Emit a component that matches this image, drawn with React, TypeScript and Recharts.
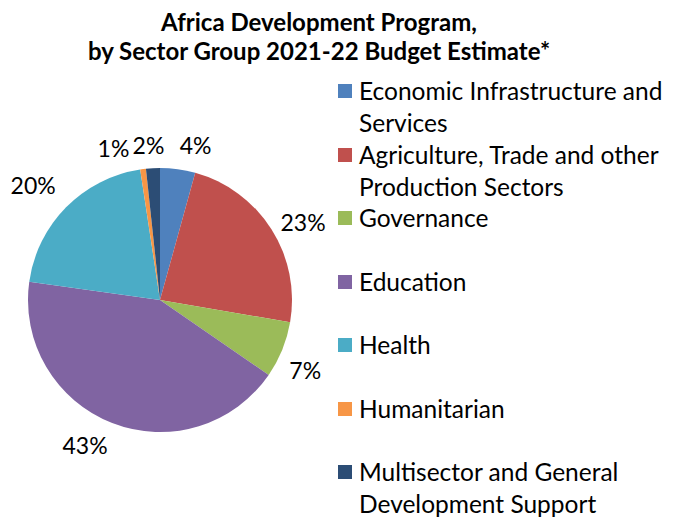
import React from "react";
import { PieChart, Pie, Cell, Legend } from "recharts";

const sectors = [
  "Economic Infrastructure and Services",
  "Agriculture, Trade and other Production Sectors",
  "Governance",
  "Education",
  "Health",
  "Humanitarian",
  "Multisector and General Development Support",
];
const shares = [4.3, 23.4, 6.9, 42.6, 20.4, 0.7, 1.7];
const colors = ["#4F81BD", "#C0504D", "#9BBB59", "#8064A2", "#4BACC6", "#F79646", "#2C4D75"];
// legend rows, split the way the original wraps them
const legendLines = [
  ["Economic Infrastructure and", "Services"],
  ["Agriculture, Trade and other", "Production Sectors"],
  ["Governance"],
  ["Education"],
  ["Health"],
  ["Humanitarian"],
  ["Multisector and General", "Development Support"],
];

// nudges for the data labels (Excel moves crowded ones apart)
const labelNudge = [
  [14, 4],
  [8, 8],
  [-3, 10],
  [-17, -4],
  [-13, -3],
  [-26, 7],
  [-3, 5],
];

const data = sectors.map((name, i) => ({ name, value: shares[i] }));

const FONT = "Lato, 'Open Sans', sans-serif";
const RAD = Math.PI / 180;

const renderLabel = (props: any) => {
  const { cx, cy, midAngle, outerRadius, percent, index } = props;
  const r = outerRadius + 28;
  const x = cx + r * Math.cos(-midAngle * RAD) + labelNudge[index][0];
  const y = cy + r * Math.sin(-midAngle * RAD) + labelNudge[index][1];
  return (
    <text
      x={x}
      y={y}
      textAnchor="middle"
      dominantBaseline="central"
      fill="#000"
      fontSize={23}
      fontFamily={FONT}
    >
      {Math.round(percent * 100) + "%"}
    </text>
  );
};

const renderLegend = () => (
  <div style={{ fontFamily: FONT, fontSize: 24.5, color: "#000" }}>
    {legendLines.map((lines, i) => (
      <div key={i} style={{ display: "flex", height: 63.5 }}>
        <div
          style={{
            width: 14,
            height: 14,
            background: colors[i],
            marginTop: 9,
            marginRight: 7,
            flexShrink: 0,
          }}
        />
        <div style={{ lineHeight: "32px", whiteSpace: "nowrap" }}>
          {lines.map((l, j) => (
            <div key={j}>{l}</div>
          ))}
        </div>
      </div>
    ))}
  </div>
);

export default function App() {
  return (
    <div style={{ position: "absolute", left: 0, top: 0, width: 682, height: 520, background: "#fff" }}>
      <div
        style={{
          position: "absolute",
          left: 0,
          top: 7,
          width: 638,
          textAlign: "center",
          fontFamily: FONT,
          fontWeight: "bold",
          fontSize: 24,
          lineHeight: "29px",
          color: "#000",
        }}
      >
        Africa Development Program,
        <br />
        by Sector Group 2021-22 Budget Estimate*
      </div>
      <PieChart width={682} height={520} margin={{ top: 0, right: 0, bottom: 0, left: 0 }}>
        <Pie
          data={data}
          dataKey="value"
          nameKey="name"
          cx={160}
          cy={300}
          outerRadius={132}
          startAngle={90}
          endAngle={-270}
          stroke="none"
          label={renderLabel}
          labelLine={false}
          isAnimationActive={false}
        >
          {data.map((d, i) => (
            <Cell key={d.name} fill={colors[i]} />
          ))}
        </Pie>
        <Legend
          content={renderLegend}
          wrapperStyle={{ position: "absolute", left: 338, top: 75, width: 344 }}
        />
      </PieChart>
    </div>
  );
}
